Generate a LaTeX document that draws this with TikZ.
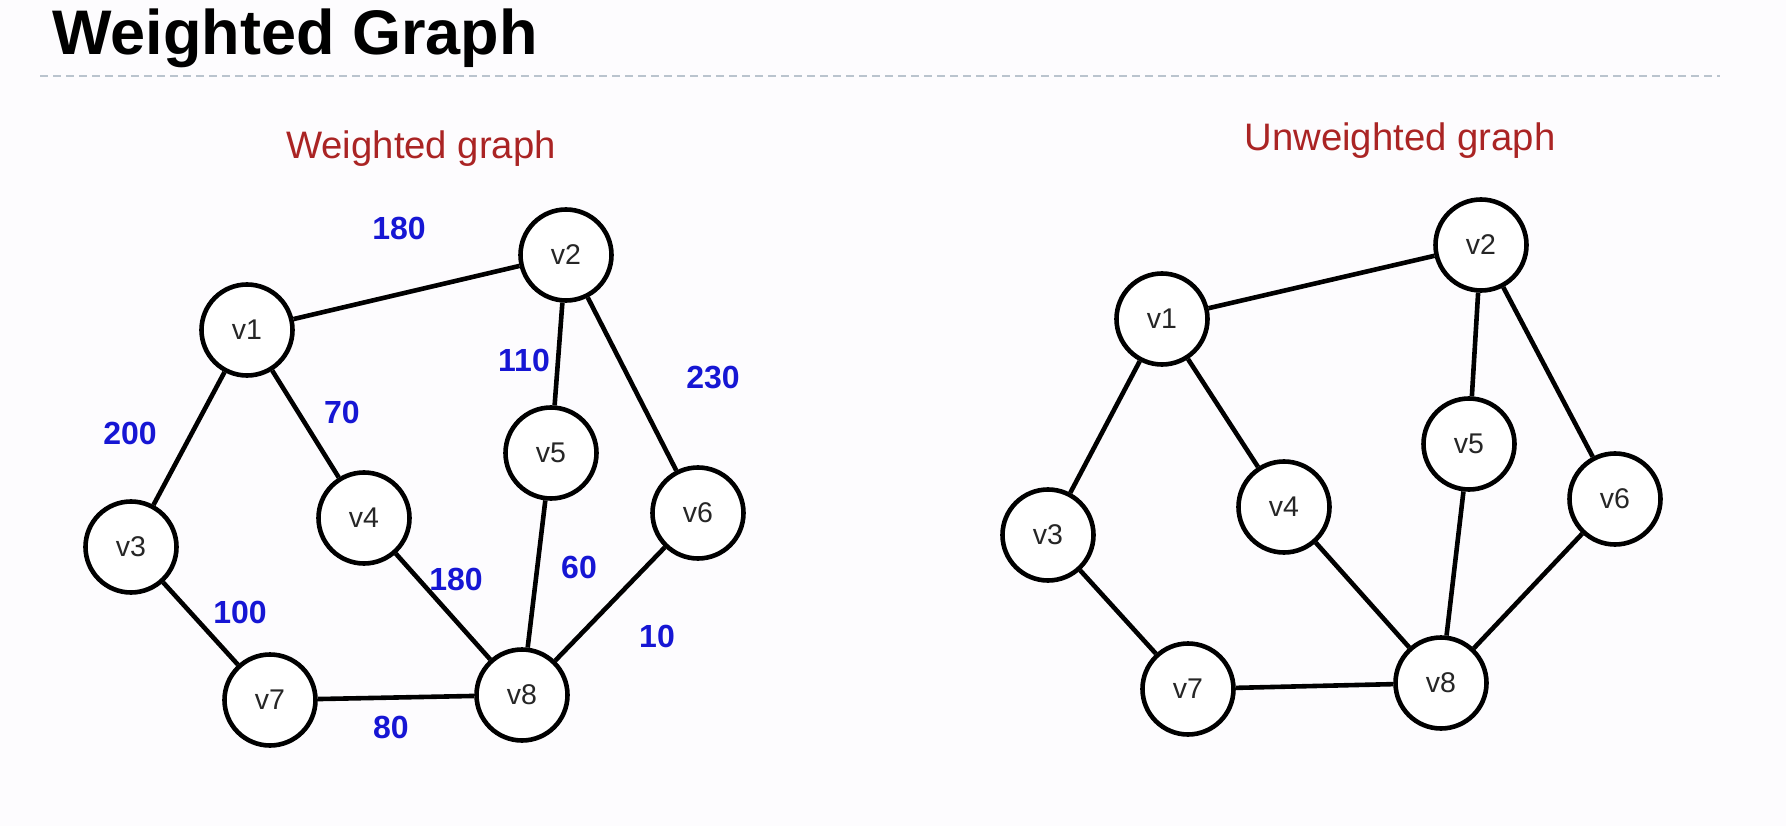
\documentclass[tikz,border=0pt]{standalone}
\usepackage{fontspec}
\setmainfont{Liberation Sans}
\definecolor{bgc}{RGB}{253,252,254}
\definecolor{dashc}{RGB}{186,196,206}
\definecolor{subred}{RGB}{170,36,36}
\definecolor{wblue}{RGB}{22,22,212}
\begin{document}
\begin{tikzpicture}[x=1pt,y=-1pt,
  vertex/.style={circle,draw=black,line width=4.6pt,fill=white,minimum size=91pt,inner sep=0pt,
    font=\fontsize{28.5}{30}\selectfont,text=black!85},
  edge/.style={line width=4.6pt,black},
  wlabel/.style={font=\bfseries\fontsize{32}{34}\selectfont,text=wblue,inner sep=0pt},
  subtitle/.style={font=\fontsize{38.3}{40}\selectfont,text=subred,inner sep=0pt,anchor=base},
  title/.style={font=\bfseries\fontsize{63}{66}\selectfont,inner sep=0pt,anchor=base west}]
\fill[bgc] (0,0) rectangle (1786,826);
\useasboundingbox (0,0) rectangle (1786,826);
\node[title] (title) at (52,55) {Weighted Graph};
\coordinate (dl) at (40,76);
\coordinate (dr) at (1720,76);
\draw[dashc,line width=2pt,dash pattern=on 8pt off 5pt] (dl) -- (dr);
\node[subtitle] (st1) at (421,159) {Weighted graph};
\node[subtitle] (st2) at (1400,151) {Unweighted graph};
% left graph
\node[vertex] (a1) at (247,330) {v1};
\node[vertex] (a2) at (566,255) {v2};
\node[vertex] (a3) at (131,547) {v3};
\node[vertex] (a4) at (364,518) {v4};
\node[vertex] (a5) at (551,453) {v5};
\node[vertex] (a6) at (698,513) {v6};
\node[vertex] (a7) at (270,700) {v7};
\node[vertex] (a8) at (522,695) {v8};
\draw[edge] (a1) -- (a2);
\draw[edge] (a1) -- (a3);
\draw[edge] (a1) -- (a4);
\draw[edge] (a2) -- (a5);
\draw[edge] (a2) -- (a6);
\draw[edge] (a3) -- (a7);
\draw[edge] (a4) -- (a8);
\draw[edge] (a5) -- (a8);
\draw[edge] (a6) -- (a8);
\draw[edge] (a7) -- (a8);
\node[wlabel] (l12) at (399,228) {180};
\node[wlabel] (l25) at (524,360) {110};
\node[wlabel] (l26) at (713,378) {230};
\node[wlabel] (l13) at (130,433) {200};
\node[wlabel] (l14) at (342,412) {70};
\node[wlabel] (l48) at (456,579) {180};
\node[wlabel] (l58) at (579,567) {60};
\node[wlabel] (l37) at (240,612) {100};
\node[wlabel] (l68) at (657,636) {10};
\node[wlabel] (l78) at (391,727) {80};
% right graph
\node[vertex] (b1) at (1162,319) {v1};
\node[vertex] (b2) at (1481,245) {v2};
\node[vertex] (b3) at (1048,535) {v3};
\node[vertex] (b4) at (1284,507) {v4};
\node[vertex] (b5) at (1469,444) {v5};
\node[vertex] (b6) at (1615,499) {v6};
\node[vertex] (b7) at (1188,689) {v7};
\node[vertex] (b8) at (1441,683) {v8};
\draw[edge] (b1) -- (b2);
\draw[edge] (b1) -- (b3);
\draw[edge] (b1) -- (b4);
\draw[edge] (b2) -- (b5);
\draw[edge] (b2) -- (b6);
\draw[edge] (b3) -- (b7);
\draw[edge] (b4) -- (b8);
\draw[edge] (b5) -- (b8);
\draw[edge] (b6) -- (b8);
\draw[edge] (b7) -- (b8);
\end{tikzpicture}
\end{document}
